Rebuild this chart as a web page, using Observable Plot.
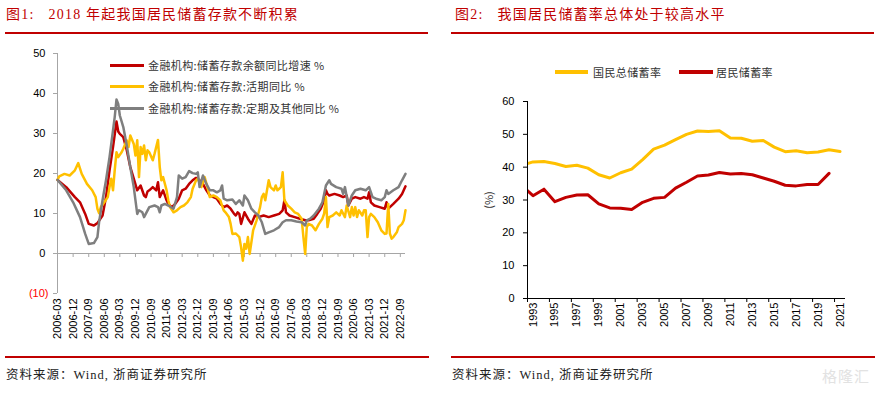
<!DOCTYPE html>
<html><head><meta charset="utf-8">
<script src="https://cdn.jsdelivr.net/npm/d3@7"></script>
<script src="https://cdn.jsdelivr.net/npm/@observablehq/plot@0.6"></script>
<style>
body{margin:0;background:#fff;}
#page{position:relative;width:883px;height:395px;overflow:hidden;background:#fff;font-family:"Liberation Serif","Noto Sans CJK SC",serif;}
.abs{position:absolute;white-space:pre;}
.title{font-size:14px;color:#c00000;line-height:20px;letter-spacing:1.2px;}
.rule{height:1.5px;background:#c00000;}
.foot{font-size:12.5px;color:#222;line-height:16px;letter-spacing:1px;}
.leg{font-family:"Noto Sans CJK SC",sans-serif;font-size:11px;color:#333;line-height:14px;letter-spacing:0.4px;}
.sw{height:3px;}
</style></head><body>
<div id="page"></div>
<script>
// ---------- Figure 1: monthly YoY growth (%) ----------
const depositTotal = [["2006-03",18.4],["2006-08",16.6],["2007-01",14.1],["2007-04",12.8],["2007-07",9.9],["2007-09",7.4],["2007-12",7.0],["2008-02",7.6],["2008-05",9.5],["2008-07",14.1],["2008-09",20.8],["2008-11",26.6],["2009-01",33.0],["2009-02",30.5],["2009-03",29.9],["2009-05",29.1],["2009-07",25.8],["2009-09",21.6],["2009-11",18.7],["2010-01",15.8],["2010-03",17.0],["2010-05",14.5],["2010-06",14.1],["2010-07",15.5],["2010-08",15.8],["2010-10",16.6],["2010-12",15.8],["2011-01",17.8],["2011-02",14.1],["2011-04",15.8],["2011-06",13.3],["2011-07",12.4],["2011-09",11.6],["2011-11",12.4],["2012-01",13.7],["2012-03",15.8],["2012-05",16.2],["2012-07",17.4],["2012-09",18.3],["2012-11",18.9],["2013-01",18.3],["2013-03",17.4],["2013-05",15.8],["2013-07",14.5],["2013-09",14.1],["2013-11",13.7],["2014-01",12.4],["2014-03",11.6],["2014-05",12.0],["2014-07",11.2],["2014-09",9.9],["2014-10",9.5],["2014-11",10.3],["2014-12",9.9],["2015-01",7.4],["2015-03",10.3],["2015-05",8.7],["2015-07",7.4],["2015-09",9.5],["2015-11",9.1],["2016-02",9.5],["2016-05",9.1],["2016-08",9.5],["2016-11",9.9],["2017-01",10.8],["2017-02",13.3],["2017-03",10.3],["2017-05",9.5],["2017-08",9.1],["2017-11",8.7],["2018-02",8.3],["2018-04",8.3],["2018-07",8.7],["2018-09",9.9],["2018-11",11.2],["2019-01",13.3],["2019-02",15.8],["2019-03",14.9],["2019-04",14.5],["2019-07",14.9],["2019-10",14.5],["2019-12",14.1],["2020-02",14.5],["2020-03",12.0],["2020-05",13.7],["2020-07",14.1],["2020-10",13.7],["2020-12",14.1],["2021-02",13.7],["2021-03",15.3],["2021-04",12.8],["2021-06",12.0],["2021-09",11.6],["2021-12",11.2],["2022-01",12.8],["2022-02",11.2],["2022-05",12.4],["2022-08",13.7],["2022-10",14.9],["2022-12",16.8]];

const depositDemand = [["2006-03",18.4],["2006-04",19.3],["2006-07",19.9],["2006-10",19.5],["2007-01",20.8],["2007-03",22.6],["2007-05",19.9],["2007-08",17.4],["2007-11",15.8],["2008-01",14.1],["2008-02",11.2],["2008-03",10.1],["2008-04",11.6],["2008-06",12.8],["2008-08",14.1],["2008-09",16.6],["2008-10",18.7],["2008-11",15.8],["2008-12",20.8],["2009-01",25.3],["2009-02",24.1],["2009-04",25.3],["2009-05",26.2],["2009-07",28.3],["2009-08",26.6],["2009-09",29.5],["2009-11",27.4],["2009-12",24.5],["2010-01",28.3],["2010-02",19.1],["2010-03",26.6],["2010-04",24.9],["2010-05",27.0],["2010-06",23.3],["2010-07",25.8],["2010-08",25.3],["2010-10",23.3],["2010-11",24.9],["2011-01",28.4],["2011-02",21.6],["2011-03",18.3],["2011-04",19.1],["2011-06",15.8],["2011-07",13.3],["2011-08",11.6],["2011-10",10.3],["2011-12",10.8],["2012-02",11.6],["2012-04",12.0],["2012-06",12.8],["2012-08",14.1],["2012-09",16.2],["2012-11",18.3],["2012-12",18.7],["2013-02",16.6],["2013-04",19.1],["2013-06",15.8],["2013-07",14.1],["2013-09",14.5],["2013-11",14.1],["2014-01",13.3],["2014-03",10.8],["2014-04",10.3],["2014-06",9.1],["2014-07",7.4],["2014-08",4.9],["2014-10",5.0],["2014-12",4.1],["2015-01",1.6],["2015-02",-1.8],["2015-03",2.4],["2015-04",1.2],["2015-05",4.1],["2015-06",-0.1],["2015-08",5.8],["2015-10",8.3],["2015-12",11.6],["2016-01",14.1],["2016-02",14.9],["2016-03",13.3],["2016-05",18.3],["2016-06",16.6],["2016-08",15.8],["2016-09",17.0],["2016-10",15.8],["2016-11",16.2],["2016-12",16.6],["2017-01",20.3],["2017-02",13.3],["2017-04",12.0],["2017-06",11.2],["2017-08",10.3],["2017-10",9.9],["2017-12",8.7],["2018-01",4.1],["2018-02",-0.1],["2018-03",6.6],["2018-04",7.4],["2018-06",7.0],["2018-08",5.8],["2018-10",7.4],["2018-12",8.7],["2019-01",10.0],["2019-02",14.1],["2019-03",6.6],["2019-04",9.1],["2019-06",9.5],["2019-08",10.3],["2019-10",9.5],["2019-11",10.8],["2020-01",9.1],["2020-02",12.0],["2020-04",9.1],["2020-05",11.6],["2020-06",9.5],["2020-07",11.6],["2020-08",9.1],["2020-09",10.8],["2020-11",9.5],["2020-12",10.8],["2021-01",10.8],["2021-02",4.1],["2021-03",9.1],["2021-04",9.9],["2021-06",9.1],["2021-08",7.8],["2021-10",5.8],["2021-12",4.9],["2022-01",5.0],["2022-02",12.4],["2022-03",5.0],["2022-04",3.7],["2022-05",4.1],["2022-07",5.3],["2022-08",6.6],["2022-10",7.4],["2022-11",8.3],["2022-12",10.8]];

const depositTime = [["2006-03",18.4],["2006-08",15.8],["2006-12",12.8],["2007-04",9.1],["2007-07",4.9],["2007-09",2.4],["2007-12",2.6],["2008-02",4.1],["2008-03",7.8],["2008-05",13.3],["2008-07",18.3],["2008-09",24.1],["2008-11",30.8],["2008-12",34.1],["2009-01",38.5],["2009-02",37.4],["2009-03",34.5],["2009-05",31.6],["2009-07",27.0],["2009-09",21.6],["2009-11",16.6],["2009-12",13.3],["2010-01",9.9],["2010-02",10.8],["2010-04",10.3],["2010-05",9.1],["2010-08",11.6],["2010-11",12.0],["2011-01",11.6],["2011-02",10.3],["2011-03",12.0],["2011-05",12.4],["2011-07",12.0],["2011-10",11.2],["2011-12",14.1],["2012-01",19.5],["2012-03",18.7],["2012-05",19.1],["2012-07",20.6],["2012-09",20.1],["2012-11",19.9],["2012-12",20.3],["2013-01",16.6],["2013-03",19.5],["2013-05",17.4],["2013-07",15.8],["2013-09",15.8],["2013-11",15.3],["2014-01",15.8],["2014-02",17.0],["2014-03",13.7],["2014-05",13.3],["2014-08",13.5],["2014-10",12.4],["2014-12",13.3],["2015-02",12.0],["2015-03",14.5],["2015-05",13.3],["2015-07",11.2],["2015-09",10.3],["2015-11",9.5],["2016-01",7.8],["2016-03",4.9],["2016-05",5.3],["2016-08",5.8],["2016-11",6.6],["2017-01",7.8],["2017-03",8.3],["2017-06",8.3],["2017-09",8.0],["2017-12",7.8],["2018-02",7.0],["2018-03",8.3],["2018-05",8.7],["2018-07",9.5],["2018-10",11.2],["2018-12",12.8],["2019-02",17.0],["2019-04",18.3],["2019-05",17.4],["2019-08",16.6],["2019-11",16.2],["2019-12",14.9],["2020-01",16.6],["2020-03",12.0],["2020-05",14.5],["2020-07",15.8],["2020-10",16.2],["2021-01",15.8],["2021-03",16.6],["2021-05",14.1],["2021-07",13.7],["2021-10",13.3],["2021-12",14.1],["2022-01",15.8],["2022-02",14.9],["2022-05",15.8],["2022-08",16.6],["2022-10",18.3],["2022-12",19.9]];

const leftTickLabels = ["2006-03","2006-12","2007-09","2008-06","2009-03","2009-12","2010-09","2011-06","2012-03","2012-12","2013-09","2014-06","2015-03","2015-12","2016-09","2017-06","2018-03","2018-12","2019-09","2020-06","2021-03","2021-12","2022-09"];
const leftYTicks = [-10, 0, 10, 20, 30, 40, 50];
const leftXDomain = ["2006-03", "2022-12"];
const leftLegend = ["金融机构:储蓄存款余额同比增速 %", "金融机构:储蓄存款:活期同比 %", "金融机构:储蓄存款:定期及其他同比 %"];

// ---------- Figure 2: annual saving rates (%) ----------
const years = [1992,1993,1994,1995,1996,1997,1998,1999,2000,2001,2002,2003,2004,2005,2006,2007,2008,2009,2010,2011,2012,2013,2014,2015,2016,2017,2018,2019,2020,2021];
const nationalSaving = [40.6,41.6,41.7,41.1,40.2,40.6,39.7,37.7,36.7,38.3,39.4,42.3,45.5,46.7,48.4,50.0,51.0,50.9,51.1,48.9,48.8,47.9,48.1,46.1,44.7,45.0,44.4,44.6,45.3,44.8];
const householdSaving = [34.3,31.3,33.3,29.5,30.8,31.5,31.6,28.8,27.6,27.5,27.1,29.3,30.5,30.8,33.6,35.4,37.3,37.6,38.4,37.9,38.1,37.7,36.7,35.7,34.5,34.3,34.7,34.7,38.1];
const rightYTicks = [0, 10, 20, 30, 40, 50, 60];
const rightXLabels = [1993,1995,1997,1999,2001,2003,2005,2007,2009,2011,2013,2015,2017,2019,2021];
const rightXDomain = [1992.5, 2021.5];
const rightLegend = ["国民总储蓄率", "居民储蓄率"];

const RED = "#c00000", YEL = "#ffc000", GRY = "#7f7f7f";
const parse = d3.utcParse("%Y-%m");
const rows = arr => arr.map(([d, v]) => ({date: parse(d), value: v}));
const font = {fontFamily: "'Liberation Sans', Arial, sans-serif", fontSize: "11px", color: "#000", background: "transparent", overflow: "visible"};

const page = document.getElementById("page");
function add(html, cls, style) {
  const el = document.createElement("div");
  el.className = "abs " + cls;
  el.style.cssText = style;
  el.textContent = html;
  page.appendChild(el);
  return el;
}

// titles
add("图1:   2018 年起我国居民储蓄存款不断积累", "title", "left:6px;top:5px;");
add("", "rule", "left:5px;top:32px;width:423px;");
add("图2:   我国居民储蓄率总体处于较高水平", "title", "left:455px;top:5px;");
add("", "rule", "left:451px;top:32px;width:423px;");

// left chart
const xStart = parse(leftXDomain[0]);
const leftTicks = leftTickLabels.map(parse);
const left = Plot.plot({
  width: 440, height: 305,
  marginLeft: 57, marginRight: 35, marginTop: 13, marginBottom: 52,
  style: font,
  x: {type: "utc", domain: leftXDomain.map(parse), label: null},
  y: {domain: [-10, 50], label: null},
  marks: [
    Plot.ruleX([xStart], {y1: -10, y2: 50, stroke: "#a6a6a6"}),
    Plot.ruleY([0], {stroke: "#a6a6a6"}),
    Plot.ruleX(leftTicks, {y1: 0, y2: 0, insetBottom: -4, stroke: "#a6a6a6"}),
    Plot.axisY({ticks: leftYTicks, tickSize: 4, tickPadding: 5, label: null,
      tickFormat: d => d < 0 ? `(${-d})` : `${d}\u2008`}),
    Plot.axisX({ticks: leftTicks, tickSize: 0, tickPadding: 5, tickRotate: -90, label: null,
      tickFormat: d3.utcFormat("%Y-%m")}),
    Plot.line(rows(depositTotal), {x: "date", y: "value", stroke: RED, strokeWidth: 2.5}),
    Plot.line(rows(depositDemand), {x: "date", y: "value", stroke: YEL, strokeWidth: 2.5}),
    Plot.line(rows(depositTime), {x: "date", y: "value", stroke: GRY, strokeWidth: 2.5})
  ]
});
d3.select(left).selectAll('g[aria-label="y-axis tick"]').attr("stroke", "#a6a6a6");
d3.select(left).selectAll("text").filter(function(){ return this.textContent === "(10)"; }).attr("fill", "#ff0000");
left.style.position = "absolute"; left.style.left = "0px"; left.style.top = "40px";
page.appendChild(left);

// left legend
[[RED, 65], [YEL, 86], [GRY, 108]].forEach(([c, y], i) => {
  add("", "sw", `left:110px;top:${y - 1.5}px;width:34px;background:${c};`);
  add(leftLegend[i], "leg", `left:148px;top:${y - 7}px;`);
});

// right chart
const boundaries = rightXLabels.map(y => y - 0.5);
const right = Plot.plot({
  width: 443, height: 305,
  marginLeft: 87, marginRight: 38, marginTop: 61, marginBottom: 47,
  style: font,
  x: {domain: rightXDomain, label: null},
  y: {domain: [0, 60], label: null},
  marks: [
    Plot.line(years.map((y, i) => ({year: y, v: nationalSaving[i]})), {x: "year", y: "v", stroke: YEL, strokeWidth: 3, clip: true}),
    Plot.line(householdSaving.map((v, i) => ({year: years[i], v})), {x: "year", y: "v", stroke: RED, strokeWidth: 3, clip: true}),
    Plot.ruleX([rightXDomain[0]], {y1: 0, y2: 60, stroke: "#000"}),
    Plot.ruleY([0], {stroke: "#000"}),
    Plot.ruleX(boundaries, {y1: 0, y2: 0, insetBottom: -4, stroke: "#000"}),
    Plot.axisY({ticks: rightYTicks, tickSize: 4, tickPadding: 9, label: null}),
    Plot.axisX({ticks: rightXLabels, tickSize: 0, tickPadding: 4, tickRotate: -90, label: null, tickFormat: d => String(d)})
  ]
});
right.style.position = "absolute"; right.style.left = "440px"; right.style.top = "40px";
page.appendChild(right);

// right y label
add("(%)", "leg", "left:488px;top:200px;transform:translate(-50%,-50%) rotate(-90deg);letter-spacing:0;");

// right legend
add("", "sw", `left:555px;top:70px;width:33px;height:4px;background:${YEL};`);
add(rightLegend[0], "leg", "left:593px;top:65px;");
add("", "sw", `left:679px;top:70px;width:34px;height:4px;background:${RED};`);
add(rightLegend[1], "leg", "left:716px;top:65px;");

// footers
add("", "rule", "left:5px;top:356px;width:424px;");
add("", "rule", "left:451px;top:356px;width:424px;");
add("资料来源：Wind, 浙商证券研究所", "foot", "left:6px;top:367px;");
add("资料来源：Wind, 浙商证券研究所", "foot", "left:452px;top:367px;");
add("格隆汇", "foot", "left:822px;top:368px;font-size:15px;color:#e2e2e2;font-family:'Noto Sans CJK SC',sans-serif;");
</script>
</body></html>
